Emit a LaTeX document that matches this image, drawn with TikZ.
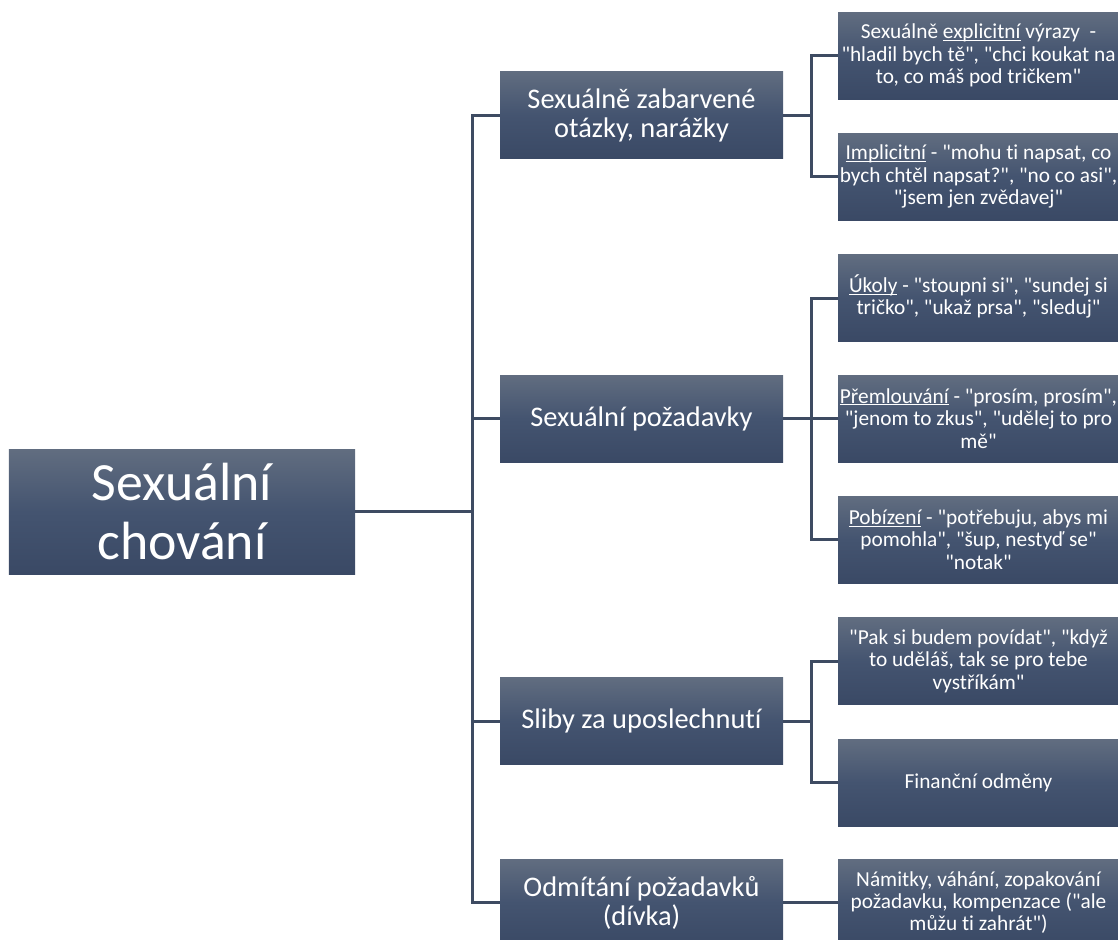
\documentclass[tikz,border=0pt]{standalone}
\usepackage{fontspec}
\setmainfont{Carlito}[Ligatures={TeXOff,NoCommon}]
\newcommand\ulw[1]{\underline{\smash{#1}}}
\definecolor{gtop}{RGB}{97,109,128}
\definecolor{gmid}{RGB}{68,84,112}
\definecolor{gbot}{RGB}{58,73,101}
\definecolor{lnc}{RGB}{62,75,98}
\begin{document}
\begin{tikzpicture}[x=1bp,y=-1bp,
  box/.style={draw=none,top color=gtop,bottom color=gbot,middle color=gmid,
    text=white,align=center,inner sep=0bp,minimum width=283bp,minimum height=87bp},
  rootbox/.style={box,minimum width=346bp,minimum height=125bp,
    font=\fontsize{54}{59}\selectfont},
  lone/.style={box,font=\fontsize{28.5}{29}\selectfont},
  ltwo/.style={box,minimum width=281bp,font=\fontsize{21.4}{22.5}\selectfont},
  conn/.style={draw=lnc,line width=3bp,line join=miter}]
\useasboundingbox (0,0) rectangle (1118,940);
\clip (0,0) rectangle (1118,940);
% nodes
\node[rootbox] (root) at (182,511.5) {Sexuální\\chování};
\node[lone] (A) at (641.5,115) {Sexuálně zabarvené\\otázky, narážky};
\node[lone] (B) at (641.5,418.5) {Sexuální požadavky};
\node[lone] (C) at (641.5,721) {Sliby za uposlechnutí};
\node[lone] (D) at (641.5,902.5) {Odmítání požadavků\\(dívka)};
\node[ltwo] (A1) at (978.5,55.5) {Sexuálně \ulw{explicitní} výrazy~ -\\"hladil bych tě", "chci koukat na\\to, co máš pod tričkem"};
\node[ltwo] (A2) at (978.5,176.5) {\ulw{Implicitní} - "mohu ti napsat, co\\bych chtěl napsat?", "no co asi",\\"jsem jen zvědavej"};
\node[ltwo] (B1) at (978.5,298) {\ulw{Úkoly} - "stoupni si", "sundej si\\tričko", "ukaž prsa", "sleduj"};
\node[ltwo] (B2) at (978.5,418.5) {\ulw{Přemlouvání} - "prosím, prosím",\\"jenom to zkus", "udělej to pro\\mě"};
\node[ltwo] (B3) at (978.5,539.5) {\ulw{Pobízení} - "potřebuju, abys mi\\pomohla", "šup, nestyď se"\\"notak"};
\node[ltwo] (C1) at (978.5,661) {"Pak si budem povídat", "když\\to uděláš, tak se pro tebe\\vystříkám"};
\node[ltwo] (C2) at (978.5,782.5) {Finanční odměny};
\node[ltwo] (D1) at (978.5,902.5) {Námitky, váhání, zopakování\\požadavku, kompenzace ("ale\\můžu ti zahrát")};
% junction coordinates
\coordinate (t0) at (472,511.5);
\coordinate (tA) at (811,115);
\coordinate (tB) at (811,418.5);
\coordinate (tC) at (811,721);
% connectors
\draw[conn] (root.east) -- (t0);
\draw[conn] (A.west) -| (t0);
\draw[conn] (B.west) -| (t0);
\draw[conn] (C.west) -| (t0);
\draw[conn] (D.west) -| (t0);
\draw[conn] (A.east) -- (tA);
\draw[conn] (A1.west) -| (tA);
\draw[conn] (A2.west) -| (tA);
\draw[conn] (B.east) -- (tB);
\draw[conn] (B1.west) -| (tB);
\draw[conn] (B2.west) -| (tB);
\draw[conn] (B3.west) -| (tB);
\draw[conn] (C.east) -- (tC);
\draw[conn] (C1.west) -| (tC);
\draw[conn] (C2.west) -| (tC);
\draw[conn] (D.east) -- (D1.west);
\end{tikzpicture}
\end{document}
